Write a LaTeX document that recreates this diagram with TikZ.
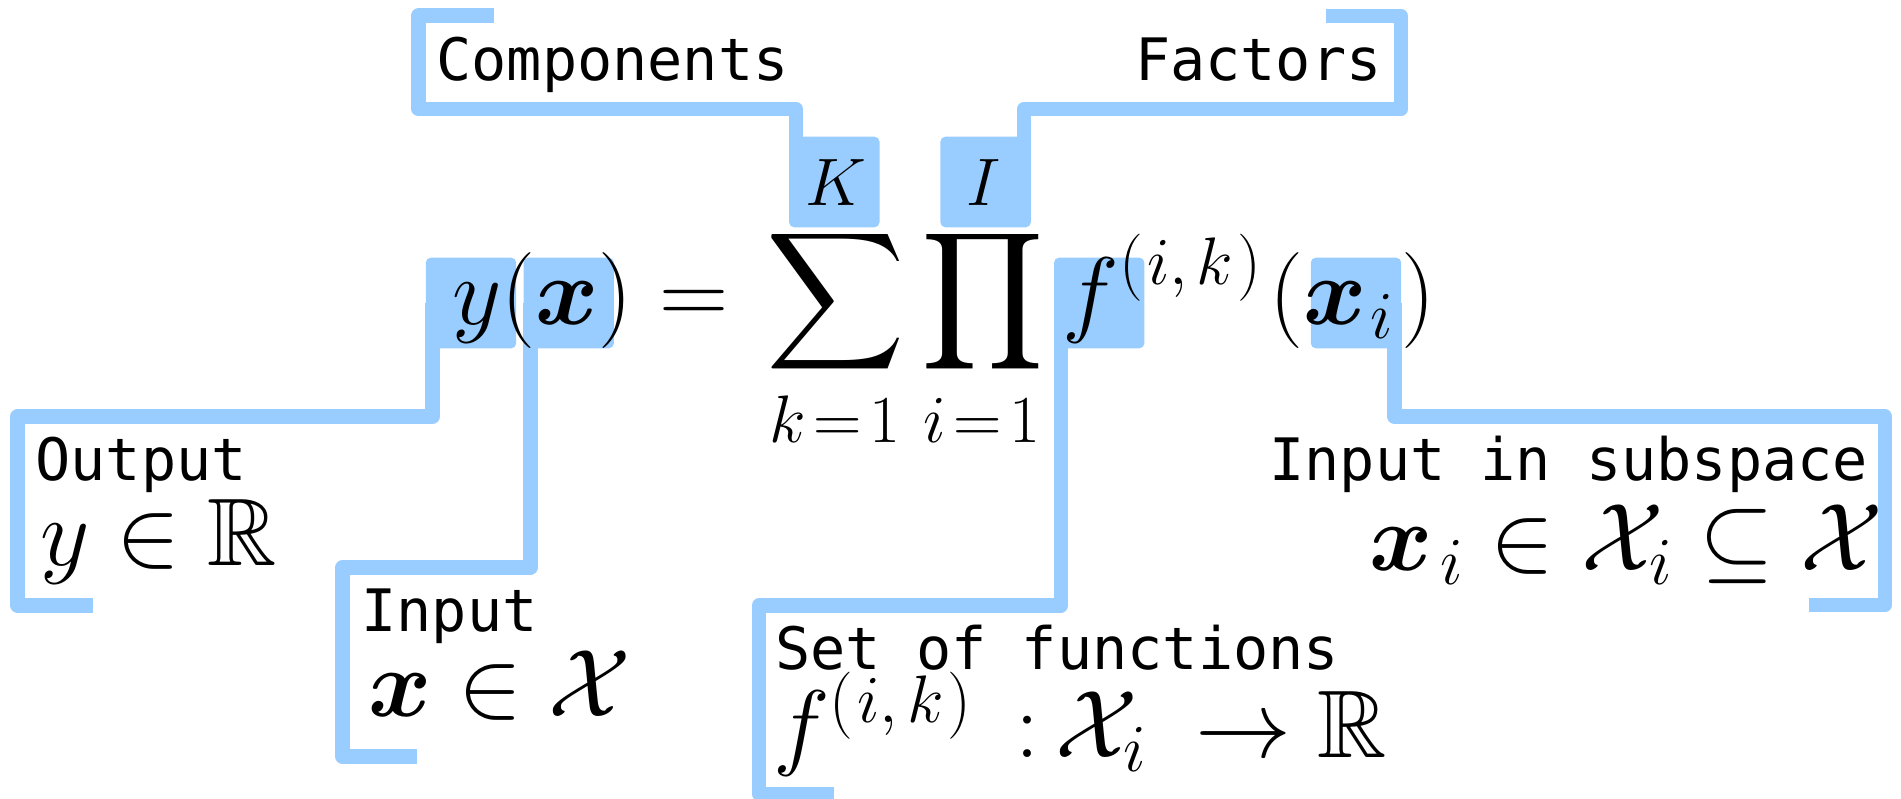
\documentclass[tikz,border=0pt]{standalone}
\usepackage{fix-cm}
\usepackage{amsmath, amssymb}
\usepackage{fontspec}
\newfontfamily\tagfont{DejaVu Sans Mono}
\definecolor{hlblue}{HTML}{99CCFF}
\tikzset{
    hl/.style={fill=hlblue, rounded corners=2.5pt, minimum width=45.2pt, minimum height=45.3pt, inner sep=0pt},
    link/.style={draw=hlblue, line width=7.25pt, line join=round},
    tag/.style={font=\tagfont\fontsize{29.25}{35}\selectfont, inner sep=0pt},
    eq/.style={font=\fontsize{48}{58}\selectfont, inner sep=0pt}
}

\begin{document}
\begin{tikzpicture}[x=0.5pt, y=-0.5pt]
        \useasboundingbox (0,0) rectangle (1901,798);
        % Highlights behind the formula
        \node[hl] (hy) at (471,303) {};
        \node[hl] (hx) at (568.7,303) {};
        \node[hl] (hK) at (834.3,182) {};
        \node[hl] (hI) at (985.6,182) {};
        \node[hl] (hf) at (1099.2,303) {};
        \node[hl] (hxi) at (1356,303) {};
        % Bracket corners and ends
        \coordinate (outcorner) at (17.6,416.5);
        \coordinate (outend) at (92.5,605.3);
        \coordinate (incorner) at (342.6,567.5);
        \coordinate (inend) at (417.4,756.7);
        \coordinate (compcorner) at (418.7,109.2);
        \coordinate (compend) at (493.8,15.7);
        \coordinate (factcorner) at (1400.8,109.2);
        \coordinate (factend) at (1326,15.8);
        \coordinate (funcorner) at (759,605.4);
        \coordinate (funend) at (834,794);
        \coordinate (subcorner) at (1884.8,416.5);
        \coordinate (subend) at (1809.3,605.2);
        % Brackets
        \draw[link] ([xshift=3.625pt]hy.west) |- (outcorner) |- (outend);
        \draw[link] ([xshift=3.625pt]hx.west) |- (incorner) |- (inend);
        \draw[link] ([xshift=3.625pt]hK.west) |- (compcorner) |- (compend);
        \draw[link] ([xshift=-3.625pt]hI.east) |- (factcorner) |- (factend);
        \draw[link] ([xshift=3.625pt]hf.west) |- (funcorner) |- (funend);
        \draw[link] ([xshift=-3.625pt]hxi.east) |- (subcorner) |- (subend);
        % Formula
        \node[eq, anchor=base west] (lhs) at (452,324.5) {$y(\boldsymbol{x}) =$};
        \node[eq] (sum) at (836,301.5) {$\displaystyle\sum$};
        \node[eq] (prod) at (983,301.5) {$\displaystyle\prod$};
        \node[eq, anchor=base] (kup) at (836,205) {$\scriptstyle K$};
        \node[eq, anchor=base] (iup) at (984,205) {$\scriptstyle I$};
        \node[eq, anchor=base] (klow) at (835,442) {$\scriptstyle k\mskip2mu=\mskip2mu1$};
        \node[eq, anchor=base] (ilow) at (982,442) {$\scriptstyle i\mskip2mu=\mskip2mu1$};
        \node[eq, anchor=base west] (rhs) at (1062.5,324.5)
            {$\displaystyle f^{(\mskip1mu i,\mskip2.5mu k\mskip1mu)}\mskip1.3mu(\boldsymbol{x}_{\mskip1mu i}\mskip1.5mu)$};
        % Labels
        \node[tag, anchor=base west] (comps) at (436,80) {Components};
        \node[tag, anchor=base east] (facts) at (1382,80) {Factors};
        \node[tag, anchor=base west] (outtag) at (35,480) {Output};
        \node[eq, anchor=base west] (outset) at (40,565) {$y \in \mathbb{R}$};
        \node[tag, anchor=base west] (intag) at (361,631.7) {Input};
        \node[eq, anchor=base west] (inset) at (368,716.7) {$\boldsymbol{x} \in \mathcal{X}$};
        \node[tag, anchor=base east] (subtag) at (1868.5,480) {Input in subspace};
        \node[eq, anchor=base east] (subset) at (1884,570) {$\boldsymbol{x}_{\mskip2mu i} \in \mathcal{X}_i \subseteq \mathcal{X}$};
        \node[tag, anchor=base west] (funtag) at (775,669) {Set of functions};
        \node[eq, anchor=base west] (funmap) at (773,757)
            {$f^{(\mskip1mu i,\mskip2.5mu k\mskip1mu)}\mskip8mu{:}\mskip3mu\mathcal{X}_i\mskip4mu \to \mathbb{R}$};
    \end{tikzpicture}
\end{document}
